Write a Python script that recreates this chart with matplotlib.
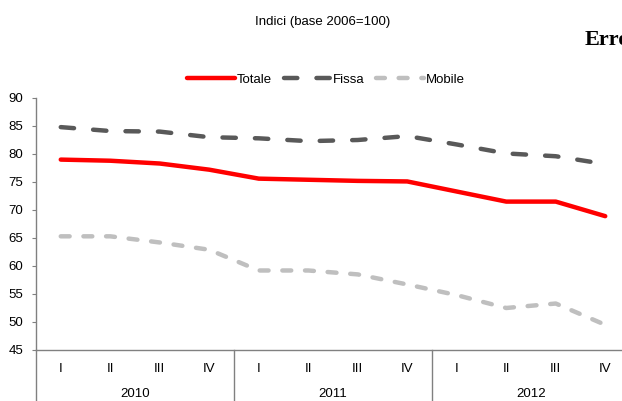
import matplotlib
matplotlib.use("Agg")
import matplotlib.pyplot as plt
from matplotlib.lines import Line2D

plt.rcParams["font.family"] = ["Liberation Sans", "DejaVu Sans"]

quarters = ["I", "II", "III", "IV"] * 3
years = ["2010", "2011", "2012"]

totale = [79.0, 78.8, 78.3, 77.2, 75.6, 75.4, 75.2, 75.1, 73.3, 71.5, 71.5, 68.9]
fissa = [84.8, 84.1, 84.0, 83.0, 82.8, 82.3, 82.5, 83.2, 81.7, 80.1, 79.6, 78.2]
mobile = [65.3, 65.3, 64.2, 62.9, 59.2, 59.2, 58.5, 56.7, 54.8, 52.5, 53.3, 49.5]

red = "#FF0000"
dark = "#595959"
light = "#BFBFBF"

W, H = 622, 401
fig = plt.figure(figsize=(W / 100, H / 100), dpi=100)
# plot area runs past the right edge, as in the reference
ax = fig.add_axes([36 / W, 51 / H, 594 / W, 252 / H])

x = list(range(len(totale)))
ax.plot(x, totale, color=red, lw=3.2, solid_capstyle="round", solid_joinstyle="round", label="Totale")
ax.plot(x, fissa, color=dark, lw=3.2, dashes=(3.0, 4.3), dash_capstyle="round", label="Fissa")
ax.plot(x, mobile, color=light, lw=3.2, dashes=(2.0, 3.1), dash_capstyle="round", label="Mobile")

ax.set_xlim(-0.5, len(x) - 0.5)
ax.set_ylim(45, 90)
ax.set_yticks(range(45, 91, 5))
ax.tick_params(axis="y", length=3, color="#808080", labelsize=9.5, pad=6)
ax.set_xticks(x)
ax.set_xticklabels(quarters)
ax.tick_params(axis="x", length=0, labelsize=9.5, pad=9)

for s in ["top", "right"]:
    ax.spines[s].set_visible(False)
for s in ["left", "bottom"]:
    ax.spines[s].set_color("#808080")
    ax.spines[s].set_linewidth(1)

# group separators under the axis
for xs in [-0.5, 3.5, 7.5]:
    ax.plot([xs, xs], [0, -0.21], color="#808080", lw=1,
            transform=ax.get_xaxis_transform(), clip_on=False)
for i, yr in enumerate(years):
    ax.text(4 * i + 1.5, -0.15, yr, transform=ax.get_xaxis_transform(),
            ha="center", va="top", fontsize=9.5)

fig.text(323 / W, 1 - 22 / H, "Indici (base 2006=100)", ha="center", va="center", fontsize=9.5)
fig.text(585 / W, 1 - 40 / H, "Errore", ha="left", va="center", fontsize=16,
         fontweight="bold", family="Liberation Serif")

handles = [
    Line2D([], [], color=red, lw=3.2, solid_capstyle="round"),
    Line2D([], [], color=dark, lw=3.2, dashes=(3.0, 4.3), dash_capstyle="round"),
    Line2D([], [], color=light, lw=3.2, dashes=(2.0, 3.1), dash_capstyle="round"),
]
fig.legend(handles, ["Totale", "Fissa", "Mobile"], loc="center", ncol=3,
           bbox_to_anchor=(326 / W, 1 - 80 / H), frameon=False, fontsize=9.5,
           handlelength=3.6, handletextpad=0.15, columnspacing=0.9)

fig.savefig("out.png", dpi=100)
